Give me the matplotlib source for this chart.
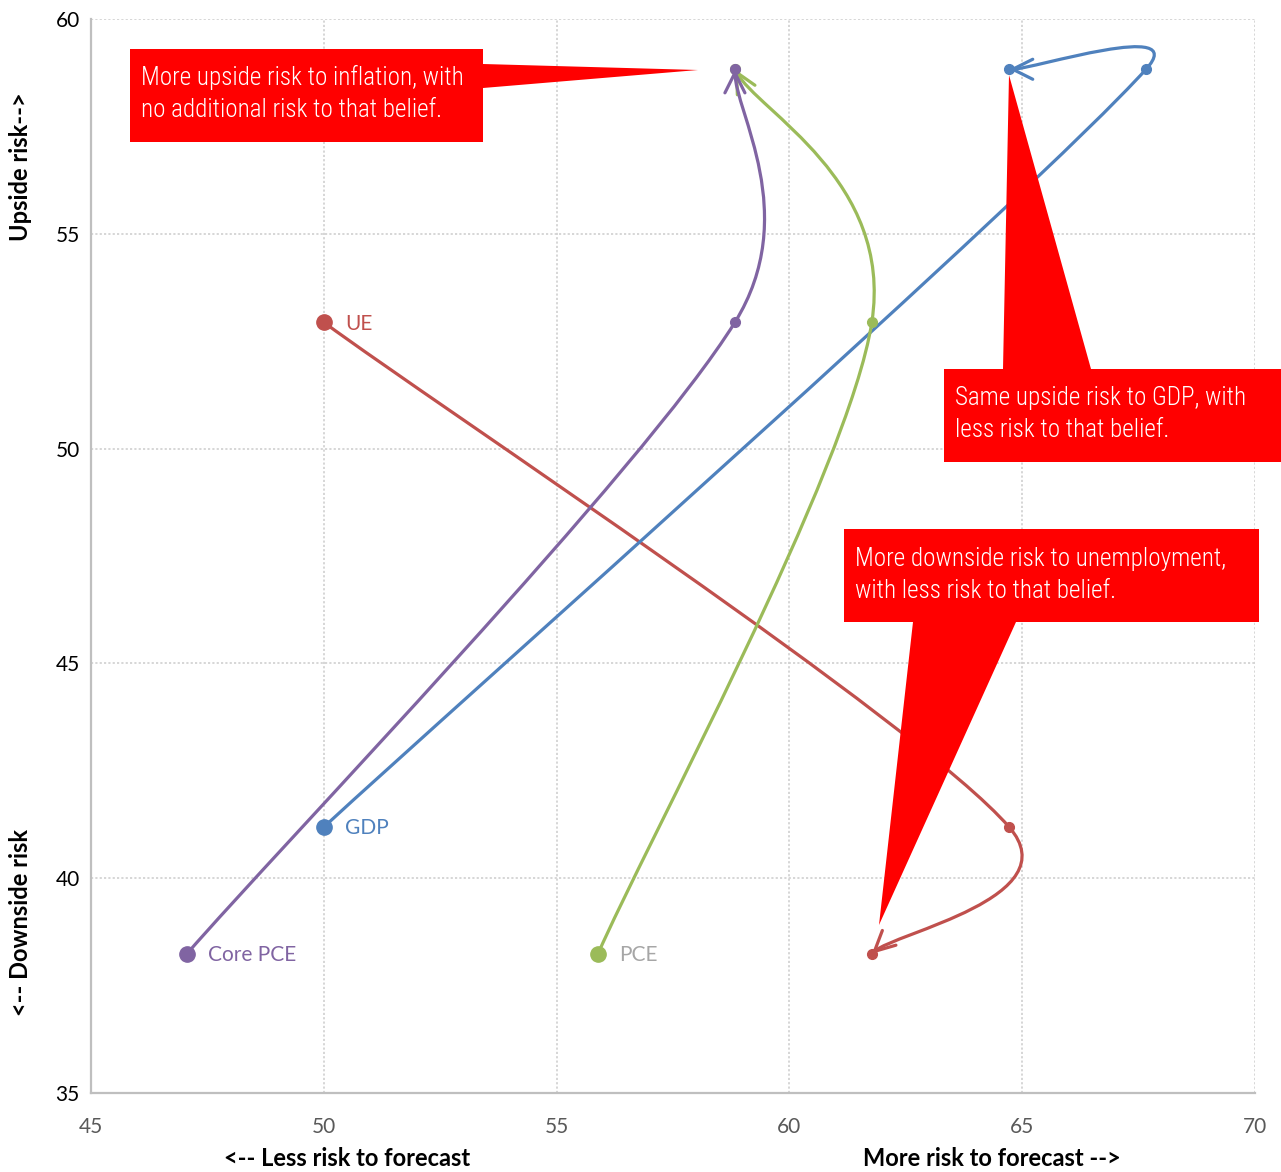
import numpy as np
import matplotlib
matplotlib.use("Agg")
import matplotlib.pyplot as plt
from matplotlib.path import Path
from matplotlib.patches import FancyArrowPatch, Polygon
from matplotlib import font_manager as fm

# ---------------- data ----------------
series_names = ["UE", "GDP", "PCE", "Core PCE"]
ue_x = [50.0, 64.72, 61.77]
ue_y = [52.94, 41.19, 38.24]
gdp_x = [50.0, 67.66, 64.72]
gdp_y = [41.19, 58.83, 58.83]
pce_x = [55.89, 61.77, 58.83]
pce_y = [38.24, 52.94, 58.83]
core_x = [47.06, 58.83, 58.83]
core_y = [38.24, 52.94, 58.83]

x_ticks = [45, 50, 55, 60, 65, 70]
y_ticks = [35, 40, 45, 50, 55, 60]

callout_texts = [
    "More upside risk to inflation, with\nno additional risk to that belief.",
    "Same upside risk to GDP, with\nless risk to that belief.",
    "More downside risk to unemployment,\nwith less risk to that belief.",
]

# ---------------- style ----------------
line_colors = ["#C0504D", "#4F81BD", "#9BBB59", "#8064A2"]
label_colors = ["#C0504D", "#4F81BD", "#A6A6A6", "#8064A2"]


def font_file(family, stretch="normal", weight="normal"):
    try:
        return fm.findfont(fm.FontProperties(family=family, stretch=stretch, weight=weight),
                           fallback_to_default=False)
    except Exception:
        return None


base_font = "Lato" if font_file("Lato") else "DejaVu Sans"

callout_fp = None
for fam, st, wt in [("Liberation Sans Narrow", "normal", "normal"),
                    ("Noto Sans", "condensed", "light"),
                    ("Roboto Condensed", "normal", "light"),
                    ("Open Sans", "condensed", "light"),
                    ("DejaVu Sans", "condensed", "normal")]:
    f = font_file(fam, st, wt)
    if f and (("Narrow" in f) or ("ondensed" in f)):
        callout_fp = dict(family=fam, stretch=st, weight=wt)
        break
if callout_fp is None:
    callout_fp = dict(family="Roboto", stretch="normal", weight="light")

plt.rcParams["font.family"] = [base_font, "DejaVu Sans"]

W, H = 1281, 1172
fig = plt.figure(figsize=(W / 100, H / 100), dpi=100)
L, R, T, B = 91, 1255, 19, 1093
ax = fig.add_axes([L / W, 1 - B / H, (R - L) / W, (B - T) / H])
ax.set_xlim(45, 70)
ax.set_ylim(35, 60)
ax.set_xticks(x_ticks)
ax.set_yticks(y_ticks)
ax.grid(True, linestyle=(0, (1.2, 1.2)), color="#D3D3D3", linewidth=1.3)
ax.set_axisbelow(True)
for s in ["top", "right"]:
    ax.spines[s].set_visible(False)
for s in ["left", "bottom"]:
    ax.spines[s].set_color("#BFBFBF")
    ax.spines[s].set_linewidth(1.6)
ax.tick_params(axis="x", length=0, pad=17, labelsize=15, labelcolor="#595959")
ax.tick_params(axis="y", length=0, pad=8, labelsize=15, labelcolor="#000000")


def to_axes(px, py):
    return ((px - L) / (R - L), (B - py) / (B - T))


def smooth_path(xs, ys):
    pts = ax.transData.transform(np.column_stack([xs, ys]))
    n = len(pts)
    verts = [pts[0]]
    codes = [Path.MOVETO]
    for i in range(n - 1):
        p1, p2 = pts[i], pts[i + 1]
        p0 = pts[i - 1] if i > 0 else p1
        p3 = pts[i + 2] if i + 2 < n else p2
        seg = np.linalg.norm(p2 - p1)
        t1 = (p2 - p0) / 6.0
        t2 = (p3 - p1) / 6.0
        cap = 0.5 * seg
        n1, n2 = np.linalg.norm(t1), np.linalg.norm(t2)
        if n1 > cap:
            t1 = t1 / n1 * cap
        if n2 > cap:
            t2 = t2 / n2 * cap
        verts += [p1 + t1, p2 - t2, p2]
        codes += [Path.CURVE4] * 3
    data = ax.transData.inverted().transform(np.array(verts))
    return Path(data, codes)


all_x = [ue_x, gdp_x, pce_x, core_x]
all_y = [ue_y, gdp_y, pce_y, core_y]

for k, (name, xs, ys, lc, tc) in enumerate(zip(series_names, all_x, all_y,
                                               line_colors, label_colors)):
    z = 3 + 0.1 * k
    path = smooth_path(xs, ys)
    arr = FancyArrowPatch(path=path, arrowstyle="->,head_length=0.72,head_width=0.36",
                          mutation_scale=20, color=lc, lw=2.3, shrinkA=0, shrinkB=0,
                          zorder=z, capstyle="round", joinstyle="round")
    ax.add_patch(arr)
    ax.plot(xs[:1], ys[:1], "o", ms=11, color=lc, zorder=z + 0.05, mec=lc)
    ax.plot(xs[1:], ys[1:], "o", ms=7, color=lc, zorder=z + 0.05, mec=lc)
    ax.annotate(name, (xs[0], ys[0]), xytext=(15.5, -1), textcoords="offset points",
                ha="left", va="center", color=tc, fontsize=15, zorder=4)

# ---------------- callouts ----------------
callout_polys = [
    [(130, 49), (483, 49), (483, 64), (698, 70), (483, 88), (483, 142), (130, 142)],
    [(944, 369), (1003, 369), (1009, 75), (1091, 369), (1281, 369), (1281, 462), (944, 462)],
    [(844, 529), (1259, 529), (1259, 622), (1016, 622), (879, 925), (913, 622), (844, 622)],
]
callout_text_pos = [(141, 93), (955, 414), (855, 575)]
callout_line_widths = [326, 291, 369]   # pixel width of the longest line in each box
line_pitch = 32                          # pixel distance between baselines

texts = []
for poly, txt, (tx, ty) in zip(callout_polys, callout_texts, callout_text_pos):
    ax.add_patch(Polygon([to_axes(px, py) for px, py in poly], closed=True,
                         transform=ax.transAxes, facecolor="#FF0000", edgecolor="none",
                         clip_on=False, zorder=5))
    t = ax.text(*to_axes(tx, ty), txt, transform=ax.transAxes, ha="left", va="center",
                color="white", fontsize=20, zorder=6, **callout_fp)
    texts.append(t)

# fit callout font size to the box text widths
fig.canvas.draw()
renderer = fig.canvas.get_renderer()
ratios = [tw / t.get_window_extent(renderer).width for t, tw in zip(texts, callout_line_widths)]
new_size = 20 * float(np.mean(ratios))
fp = fm.FontProperties(size=new_size, **callout_fp)
_, lp_h, lp_d = renderer.get_text_width_height_descent("lp", fp, ismath=False)
ls = (line_pitch - lp_d) / (lp_h - lp_d)
for t in texts:
    t.set_fontsize(new_size)
    t.set_linespacing(ls)

# ---------------- axis titles ----------------
tkw = dict(transform=ax.transAxes, ha="center", va="center", fontsize=17,
           fontweight="bold", color="black")
ax.text(*to_axes(347, 1159), "<-- Less risk to forecast", **tkw)
ax.text(*to_axes(992, 1159), "More risk to forecast -->", **tkw)
ax.text(*to_axes(21, 167), "Upside risk-->", rotation=90, **tkw)
ax.text(*to_axes(21, 922), "<-- Downside risk", rotation=90, **tkw)

fig.savefig("out.png", dpi=100)
